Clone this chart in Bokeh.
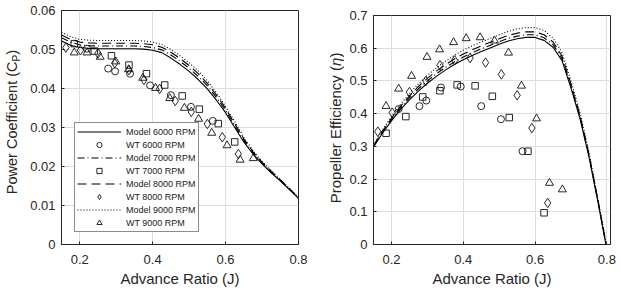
from bokeh.plotting import figure
from bokeh.layouts import row
from bokeh.models import Range1d, FixedTicker, Legend, LegendItem, Label
from bokeh.embed import file_html
from bokeh.resources import INLINE

# ---------------- model predictions ----------------
# power coefficient vs advance ratio
j_model_cp = [0.15, 0.175, 0.2, 0.225, 0.25, 0.275, 0.3, 0.325, 0.35, 0.375,
              0.4, 0.425, 0.45, 0.475, 0.5, 0.525, 0.55, 0.575, 0.6, 0.625,
              0.65, 0.675, 0.7, 0.725, 0.75, 0.775, 0.8]
cp_model_6000 = [0.0522, 0.0511, 0.0505, 0.0503, 0.0502, 0.0502, 0.0502, 0.0502, 0.0502, 0.0501,
                 0.0498, 0.0492, 0.0478, 0.0462, 0.0444, 0.0423, 0.0399, 0.0370, 0.0338, 0.0300,
                 0.0263, 0.0232, 0.0207, 0.0184, 0.0163, 0.0141, 0.0118]
cp_model_7000 = [0.0530, 0.0519, 0.0512, 0.0510, 0.0509, 0.0509, 0.0509, 0.0509, 0.0509, 0.0508,
                 0.0505, 0.0499, 0.0486, 0.0470, 0.0452, 0.0431, 0.0407, 0.0377, 0.0344, 0.0305,
                 0.0267, 0.0235, 0.0209, 0.0186, 0.0164, 0.0142, 0.0119]
cp_model_8000 = [0.0537, 0.0526, 0.0519, 0.0517, 0.0516, 0.0516, 0.0516, 0.0516, 0.0516, 0.0515,
                 0.0512, 0.0506, 0.0493, 0.0477, 0.0459, 0.0438, 0.0413, 0.0383, 0.0349, 0.0310,
                 0.0271, 0.0238, 0.0211, 0.0188, 0.0166, 0.0143, 0.0120]
cp_model_9000 = [0.0544, 0.0533, 0.0526, 0.0524, 0.0523, 0.0523, 0.0523, 0.0523, 0.0523, 0.0522,
                 0.0519, 0.0513, 0.0500, 0.0484, 0.0466, 0.0445, 0.0420, 0.0389, 0.0354, 0.0315,
                 0.0275, 0.0241, 0.0213, 0.0190, 0.0167, 0.0144, 0.0121]

# propeller efficiency vs advance ratio
j_model_eta = [0.15, 0.175, 0.2, 0.225, 0.25, 0.275, 0.3, 0.325, 0.35, 0.375,
               0.4, 0.425, 0.45, 0.475, 0.5, 0.525, 0.55, 0.575, 0.6, 0.625,
               0.65, 0.675, 0.7, 0.725, 0.75, 0.775, 0.787, 0.797]
eta_model_6000 = [0.298, 0.340, 0.378, 0.412, 0.442, 0.469, 0.493, 0.514, 0.533, 0.550,
                  0.565, 0.578, 0.590, 0.601, 0.612, 0.622, 0.629, 0.633, 0.633, 0.624,
                  0.603, 0.562, 0.478, 0.385, 0.268, 0.130, 0.059, 0.000]
eta_model_7000 = [0.300, 0.343, 0.382, 0.417, 0.448, 0.476, 0.500, 0.522, 0.541, 0.558,
                  0.573, 0.586, 0.598, 0.609, 0.620, 0.630, 0.637, 0.641, 0.641, 0.632,
                  0.611, 0.569, 0.484, 0.390, 0.272, 0.133, 0.062, 0.003]
eta_model_8000 = [0.302, 0.346, 0.386, 0.422, 0.454, 0.483, 0.508, 0.530, 0.549, 0.567,
                  0.582, 0.595, 0.607, 0.618, 0.629, 0.639, 0.646, 0.650, 0.650, 0.641,
                  0.619, 0.576, 0.490, 0.395, 0.276, 0.136, 0.065, 0.006]
eta_model_9000 = [0.304, 0.350, 0.391, 0.428, 0.461, 0.491, 0.517, 0.540, 0.560, 0.578,
                  0.594, 0.607, 0.619, 0.630, 0.641, 0.651, 0.659, 0.663, 0.663, 0.654,
                  0.631, 0.587, 0.500, 0.403, 0.282, 0.140, 0.069, 0.010]

# ---------------- wind tunnel measurements ----------------
j_wt_6000 = [0.220, 0.278, 0.297, 0.338, 0.393, 0.450, 0.505, 0.565]
cp_wt_6000 = [0.0502, 0.0451, 0.0444, 0.0438, 0.0408, 0.0383, 0.0353, 0.0317]
eta_wt_6000 = [0.414, 0.423, 0.440, 0.480, 0.483, 0.423, 0.383, 0.285]

j_wt_7000 = [0.185, 0.240, 0.287, 0.335, 0.383, 0.433, 0.481, 0.528, 0.580, 0.625]
cp_wt_7000 = [0.0515, 0.0496, 0.0484, 0.0460, 0.0438, 0.0409, 0.0381, 0.0347, 0.0310, 0.0263]
eta_wt_7000 = [0.340, 0.391, 0.451, 0.470, 0.488, 0.485, 0.453, 0.388, 0.285, 0.097]

j_wt_8000 = [0.162, 0.202, 0.250, 0.296, 0.335, 0.376, 0.419, 0.462, 0.506, 0.550, 0.591, 0.635]
cp_wt_8000 = [0.0505, 0.0498, 0.0490, 0.0465, 0.0447, 0.0422, 0.0399, 0.0368, 0.0340, 0.0309, 0.0275, 0.0232]
eta_wt_8000 = [0.345, 0.403, 0.466, 0.500, 0.548, 0.563, 0.570, 0.556, 0.520, 0.456, 0.356, 0.127]

j_wt_9000 = [0.185, 0.220, 0.256, 0.299, 0.334, 0.373, 0.408, 0.447, 0.487, 0.526, 0.562, 0.604, 0.640, 0.676]
cp_wt_9000 = [0.0492, 0.0492, 0.0481, 0.0469, 0.0449, 0.0427, 0.0401, 0.0375, 0.0350, 0.0322, 0.0286, 0.0254, 0.0217, 0.0221]
eta_wt_9000 = [0.423, 0.476, 0.515, 0.573, 0.596, 0.618, 0.630, 0.633, 0.623, 0.586, 0.485, 0.385, 0.188, 0.168]

# ---------------- axes ticks ----------------
j_ticks = [0.2, 0.4, 0.6, 0.8]
j_tick_labels = ["0.2", "0.4", "0.6", "0.8"]
cp_ticks = [0, 0.01, 0.02, 0.03, 0.04, 0.05, 0.06]
cp_tick_labels = ["0", "0.01", "0.02", "0.03", "0.04", "0.05", "0.06"]
eta_ticks = [0, 0.1, 0.2, 0.3, 0.4, 0.5, 0.6, 0.7]
eta_tick_labels = ["0", "0.1", "0.2", "0.3", "0.4", "0.5", "0.6", "0.7"]

rpm_labels = ["6000 RPM", "7000 RPM", "8000 RPM", "9000 RPM"]

FONT = "Liberation Sans"
INK = "#262626"
GRID = "#dedede"
HEIGHT = 290

line_styles = ["solid", "7 3 1 3", "9 5", "1 2"]
markers = ["circle", "square", "diamond", "triangle"]
marker_sizes = [7, 6.5, 9.5, 8]


def make_fig(width, x_end, y_end, y_ticks, y_labels, border_left, border_right, border_top):
    p = figure(width=width, height=HEIGHT, output_backend="svg", toolbar_location=None,
               title=None, frame_align=False,
               x_range=Range1d(0.15, x_end), y_range=Range1d(0, y_end),
               min_border_left=border_left, min_border_right=border_right,
               min_border_top=border_top, min_border_bottom=46)
    p.background_fill_color = "white"
    p.border_fill_color = "white"
    p.outline_line_color = INK
    p.outline_line_width = 1
    p.outline_line_alpha = 1

    p.xaxis.ticker = FixedTicker(ticks=j_ticks)
    p.xaxis.major_label_overrides = dict(zip(j_ticks, j_tick_labels))
    p.yaxis.ticker = FixedTicker(ticks=y_ticks)
    p.yaxis.major_label_overrides = dict(zip(y_ticks, y_labels))
    p.xgrid.ticker = FixedTicker(ticks=j_ticks)
    p.ygrid.ticker = FixedTicker(ticks=y_ticks)
    for g in (p.xgrid, p.ygrid):
        g.grid_line_color = GRID
        g.grid_line_width = 1

    for ax in (p.xaxis, p.yaxis):
        ax.axis_line_color = INK
        ax.major_tick_line_color = INK
        ax.major_tick_in = 3
        ax.major_tick_out = 0
        ax.minor_tick_line_color = None
        ax.major_label_text_font = FONT
        ax.major_label_text_font_size = "13px"
        ax.major_label_text_color = INK
        ax.axis_label_text_font = FONT
        ax.axis_label_text_font_size = "15px"
        ax.axis_label_text_font_style = "normal"
        ax.axis_label_text_color = INK
    p.xaxis.major_label_standoff = 10
    p.yaxis.major_label_standoff = 6
    p.xaxis.axis_label = "Advance Ratio (J)"
    p.xaxis.axis_label_standoff = 3
    return p


def add_series(p, j_model, model_series, wt_j, wt_series):
    items = []
    for k in range(4):
        r_line = p.line(j_model, model_series[k], line_color="black", line_width=1.1,
                        line_dash=line_styles[k])
        r_pts = p.scatter(wt_j[k], wt_series[k], marker=markers[k], size=marker_sizes[k],
                          line_color="#111111", line_width=0.9, fill_alpha=0)
        items.append(LegendItem(label="Model " + rpm_labels[k], renderers=[r_line]))
        items.append(LegendItem(label="WT " + rpm_labels[k], renderers=[r_pts]))
    return items


def title_strip(width, parts, center_x, anchor_y):
    """Narrow panel holding a rotated y-axis title built from text pieces.

    Coordinates are pixels: x from the strip's left edge, y from the page top.
    Each piece is (text, font size, style, baseline shift, advance along the text).
    """
    s = figure(width=width, height=HEIGHT, output_backend="svg", toolbar_location=None,
               title=None, frame_align=False,
               x_range=Range1d(0, width), y_range=Range1d(HEIGHT, 0),
               x_axis_type=None, y_axis_type=None, min_border=0)
    s.outline_line_color = None
    s.xgrid.visible = False
    s.ygrid.visible = False
    s.background_fill_color = "white"
    s.border_fill_color = "white"
    text, size, style, shift, advance = parts[0]
    s.add_layout(Label(x=center_x, y=anchor_y, text=text, angle=1.5707963,
                       text_align="right", text_baseline="middle",
                       text_font=FONT, text_font_size=size, text_font_style=style,
                       text_color=INK))
    pos = anchor_y
    for text, size, style, shift, advance in parts[1:]:
        s.add_layout(Label(x=center_x + shift, y=pos, text=text, angle=1.5707963,
                           text_align="left", text_baseline="middle",
                           text_font=FONT, text_font_size=size, text_font_style=style,
                           text_color=INK))
        pos -= advance
    return s


# ---------------- power coefficient ----------------
t1 = title_strip(24, [("Power Coefficient (C", "14.5px", "normal", 0, 0),
                      ("P", "10px", "normal", 4, 6.7),
                      (")", "14.5px", "normal", 0, 0)], 11.5, 61)

p1 = make_fig(286, 0.8, 0.06, cp_ticks, cp_tick_labels, 37, 12, 10)
items = add_series(p1, j_model_cp,
                   [cp_model_6000, cp_model_7000, cp_model_8000, cp_model_9000],
                   [j_wt_6000, j_wt_7000, j_wt_8000, j_wt_9000],
                   [cp_wt_6000, cp_wt_7000, cp_wt_8000, cp_wt_9000])
legend = Legend(items=items, location=(13, 12), margin=0, padding=2, spacing=0,
                label_height=13, glyph_height=13, glyph_width=44, label_standoff=5,
                label_text_font=FONT, label_text_font_size="9px", label_text_color="#1a1a1a",
                border_line_color="#1a1a1a", border_line_width=1,
                background_fill_color="white", background_fill_alpha=1)
p1.add_layout(legend, "center")

# ---------------- propeller efficiency ----------------
t2 = title_strip(34, [("Propeller Efficiency (", "15px", "normal", 0, 0),
                      ("\u03b7", "15px", "italic", 0, 8.5),
                      (")", "15px", "normal", 0, 0)], 24.5, 65.5)

p2 = make_fig(277, 0.81, 0.7, eta_ticks, eta_tick_labels, 29, 11, 15)
add_series(p2, j_model_eta,
           [eta_model_6000, eta_model_7000, eta_model_8000, eta_model_9000],
           [j_wt_6000, j_wt_7000, j_wt_8000, j_wt_9000],
           [eta_wt_6000, eta_wt_7000, eta_wt_8000, eta_wt_9000])

layout = row(t1, p1, t2, p2)
open("out.html", "w").write(file_html(layout, INLINE))
